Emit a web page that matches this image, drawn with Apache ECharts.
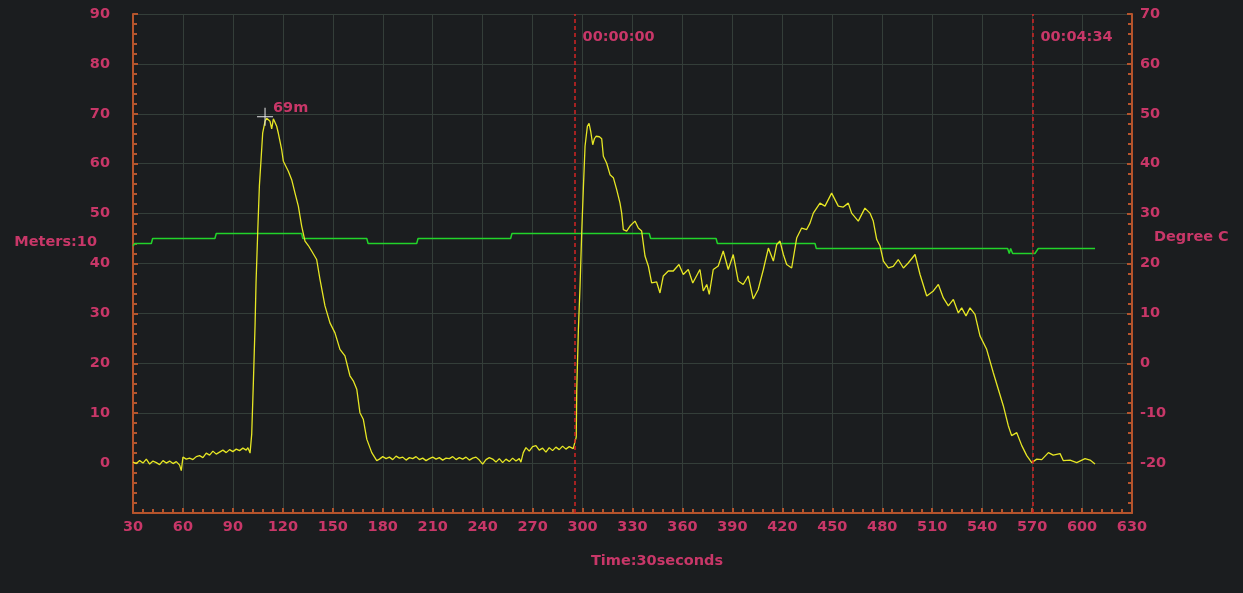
<!DOCTYPE html>
<html lang="en">
  <head>
    <meta charset="utf-8" />
    <title>Dive log</title>
    <style>
      * {
        margin: 0;
        padding: 0;
      }

      html,
      body {
        background: #1b1d1f;
      }

      #chart-container {
        position: relative;
        width: 1243px;
        height: 593px;
        overflow: hidden;
      }
    </style>
  </head>

  <body>
    <div id="chart-container"></div>
    <script src="https://cdn.jsdelivr.net/npm/echarts@6/dist/echarts.min.js"></script>
    <script>
      // depth (m) against time (s)
      var depthTime = [
        30, 32, 34, 36, 38, 40, 42, 44, 46, 48, 50, 52, 54, 56, 58, 59, 60, 62, 64, 66, 68, 70, 72, 74, 76,
        78, 80, 82, 84, 86, 88, 90, 92, 94, 96, 98, 99, 100.3, 101.3, 102.3, 103.3, 103.9, 104.9, 105.9,
        106.9, 107.9, 109.3, 110.3, 111.3, 112.3, 113.3, 114.3, 115.3, 116.3, 117.3, 119.3, 120.3, 121.8,
        123.3, 125.3, 127.3, 129.3, 131.3, 133.3, 135.3, 137.3, 140.3, 142.3, 145.3, 148.3, 151.3, 154.3,
        157.3, 160.3, 162.3, 164.4, 166.3, 168.3, 170.4, 173.4, 176.4,
        178, 180, 182, 184, 186, 188, 190, 192, 194, 196, 198, 200, 202, 204, 206, 208, 210, 212, 214,
        216, 218, 220, 222, 224, 226, 228, 230, 232, 234, 236, 238, 240, 242, 244, 246, 248, 250, 252,
        254, 256, 258, 260, 262, 263, 264.4, 266, 268, 270, 272, 274, 276, 278, 280, 282, 284, 286, 288,
        290, 292, 294.4, 295.5, 296.2, 296.5, 297.5, 298.5, 299.5, 300.5, 301.5, 302.9, 303.9, 304.9,
        306.1, 307.1, 308.1, 310.1, 311.5, 312.5, 314.5, 316.5, 318.5, 320.5, 322.5, 323.5, 324.5,
        326.5, 328.5, 331.5, 333.5, 335.5, 337.5, 339.5, 341.5, 344.5, 346.5, 348.5, 351.5, 354.5,
        357.9, 360.5, 363.5, 366.2, 370.5, 372.5, 374.6, 376.1, 378.5, 381.5, 384.5, 387.5, 390.5,
        393.5, 396.5, 399.5, 402.5, 405.5, 408.6, 411.6, 414.6, 416.6, 418.6, 420.6, 422.6, 425.6,
        428.6, 431.6, 434.6, 436.6, 438.6, 442.6, 445.6, 449.6, 453.6, 456.6, 459.6, 461.6, 465.6,
        469.6, 472.6, 474.6, 476.7, 478.7, 480.7, 483.7, 486.6, 489.6, 492.7, 495.6, 499.7, 502.7,
        506.7, 510.7, 513.7, 516.7, 519.7, 522.7, 525.7, 527.7, 530.3, 532.7, 535.7, 538.7, 542.7,
        546.7, 549.7, 552.7, 555.7, 557.7, 560.8, 563.8, 566.8, 569.8, 572.8, 575.8, 579.8, 582.7,
        586.8, 588.7, 592.8, 596.8, 601.8, 604.8, 607.8
      ];
      var depthValue = [
        0.2, -0.1, 0.5, 0, 0.8, -0.2, 0.4, 0.1, -0.3, 0.5, 0, 0.4, -0.1, 0.3, -0.4, -1.5, 1.2, 0.8, 1.0,
        0.7, 1.3, 1.5, 1.1, 2.0, 1.6, 2.4, 1.8, 2.2, 2.6, 2.1, 2.7, 2.3, 2.8, 2.5, 3.0, 2.6, 3.1, 2.0, 5.8,
        16.2, 27.5, 36.2, 46.2, 55.5, 60.8, 66.2, 68.5, 69.1, 68.7, 68.5, 67.0, 69.0, 68.8, 67.5, 66.1,
        62.8, 60.5, 59.5, 58.5, 56.8, 54.1, 51.5, 47.5, 44.5, 43.6, 42.5, 40.8, 36.8, 31.5, 28.1, 26.1,
        22.8, 21.5, 17.5, 16.5, 14.8, 10.1, 8.8, 4.8, 2.1, 0.5,
        0.8, 1.3, 0.9, 1.2, 0.7, 1.4, 1.0, 1.2, 0.6, 1.1, 0.9, 1.3, 0.7, 1.0, 0.5, 0.9, 1.2, 0.8, 1.1,
        0.6, 1.0, 0.9, 1.3, 0.7, 1.1, 0.8, 1.2, 0.6, 1.0, 1.2, 0.6, -0.2, 0.7, 1.1, 0.8, 0.2, 0.9, 0.1,
        0.8, 0.3, 1.0, 0.4, 0.9, 0.2, 2.1, 3.1, 2.4, 3.3, 3.5, 2.6, 3.0, 2.2, 3.1, 2.5, 3.2, 2.7, 3.4,
        2.8, 3.3, 2.9, 2.5, 5.2, 14.5, 26.8, 35.5, 46.2, 55.2, 63.5, 67.5, 68.1, 66.5, 63.8, 65.0, 65.5,
        65.4, 65.0, 61.5, 60.1, 57.8, 57.2, 54.8, 52.1, 50.1, 46.8, 46.5, 47.5, 48.5, 47.1, 46.5, 41.5,
        39.5, 36.1, 36.3, 34.1, 37.5, 38.5, 38.5, 39.8, 37.8, 38.8, 36.1, 38.8, 34.5, 35.8, 33.8, 38.8,
        39.5, 42.5, 38.8, 41.8, 36.5, 35.8, 37.5, 32.9, 34.8, 38.8, 43.1, 40.5, 43.8, 44.5, 41.8, 39.8,
        39.1, 45.1, 47.1, 46.8, 48.1, 50.1, 52.1, 51.5, 54.1, 51.5, 51.3, 52.1, 50.1, 48.5, 51.1, 50.1,
        48.5, 44.8, 43.5, 40.5, 39.1, 39.4, 40.8, 39.1, 40.1, 41.8, 37.8, 33.5, 34.5, 35.8, 33.1, 31.5,
        32.8, 30.1, 31.1, 29.5, 31.1, 29.8, 25.5, 22.8, 18.1, 14.8, 11.5, 7.5, 5.5, 6.1, 3.5, 1.5, 0.1,
        0.8, 0.7, 2.1, 1.6, 1.9, 0.5, 0.6, 0.1, 0.9, 0.6, -0.2
      ];

      // water temperature (degree C) against time (s)
      var tempTime = [
        30, 31, 41, 41.8, 79.2, 80, 131.3, 132, 170.4, 171.2, 200.4, 201.2, 256.8, 257.6, 340.1, 340.9,
        380.2, 381, 439.6, 440.4, 555.3, 556.3, 557.1, 558.3, 571.7, 573.7, 607.8
      ];
      var tempValue = [
        23.5, 24, 24, 25, 25, 26, 26, 25, 25, 24, 24, 25, 25, 26, 26, 25, 25, 24, 24, 23, 23, 22, 23, 22,
        22, 23, 23
      ];

      var markerTimes = [295.5, 570.5];
      var markerLabels = ["00:00:00", "00:04:34"];
      var peakPoint = [109.3, 69.4];
      var peakLabel = "69m";

      var pink = "#c83768";
      var axisBrown = "#b5542c";
      var gridColor = "#343e39";
      var font = "DejaVu Sans";

      function zip(xs, ys) {
        return xs.map(function (x, i) {
          return [x, ys[i]];
        });
      }

      var dom = document.getElementById("chart-container");
      var myChart = echarts.init(dom, null, { renderer: "canvas" });

      var labelStyle = {
        color: pink,
        fontFamily: font,
        fontWeight: "bold",
        fontSize: 14.5,
      };

      var yAxisBase = {
        type: "value",
        interval: 10,
        axisLine: { show: true, lineStyle: { color: axisBrown, width: 2 } },
        axisTick: { show: true, inside: true, length: 5, lineStyle: { color: axisBrown, width: 2 } },
        minorTick: { show: true, splitNumber: 5, length: 4, lineStyle: { color: axisBrown, width: 2 } },
        nameLocation: "middle",
        nameRotate: 0,
        nameMoveOverlap: false,
      };

      var option = {
        backgroundColor: "#1b1d1f",
        animation: false,
        grid: { left: 133, right: 111, top: 14, bottom: 80 },
        xAxis: {
          type: "value",
          min: 30,
          max: 630,
          interval: 30,
          name: "Time:30seconds",
          nameLocation: "middle",
          nameGap: 41,
          nameMoveOverlap: false,
          nameTextStyle: Object.assign({}, labelStyle, { padding: [0, 0, 0, 49] }),
          axisLine: { show: true, onZero: false, lineStyle: { color: axisBrown, width: 2 } },
          axisTick: { show: true, inside: true, length: 5, lineStyle: { color: axisBrown, width: 2 } },
          minorTick: { show: true, splitNumber: 5, length: 4, lineStyle: { color: axisBrown, width: 2 } },
          axisLabel: Object.assign({}, labelStyle, { margin: 7 }),
          splitLine: { show: true, lineStyle: { color: gridColor, width: 1 } },
        },
        yAxis: [
          Object.assign({}, yAxisBase, {
            min: -10,
            max: 90,
            position: "left",
            // the empty second line lifts the name above the axis middle
            name: "Meters:10\n ",
            nameGap: 36,
            nameTextStyle: Object.assign({}, labelStyle, {
              align: "right",
              verticalAlign: "middle",
              lineHeight: 42,
            }),
            axisLabel: Object.assign({}, labelStyle, { margin: 23, showMinLabel: false }),
            splitLine: { show: true, lineStyle: { color: gridColor, width: 1 } },
          }),
          Object.assign({}, yAxisBase, {
            min: -30,
            max: 70,
            position: "right",
            name: "Degree C\n ",
            nameGap: 22,
            nameTextStyle: Object.assign({}, labelStyle, {
              align: "left",
              verticalAlign: "middle",
              lineHeight: 53,
            }),
            axisLabel: Object.assign({}, labelStyle, { margin: 8, showMinLabel: false }),
            splitLine: { show: false },
          }),
        ],
        series: [
          {
            name: "Temperature",
            type: "line",
            yAxisIndex: 1,
            symbol: "none",
            data: zip(tempTime, tempValue),
            lineStyle: { color: "#22d42a", width: 1.5 },
            z: 2,
          },
          {
            name: "Depth",
            type: "line",
            yAxisIndex: 0,
            symbol: "none",
            data: zip(depthTime, depthValue),
            lineStyle: { color: "#e6e624", width: 1.3 },
            z: 3,
            markLine: {
              silent: true,
              symbol: "none",
              label: { show: false },
              lineStyle: { color: "#d42424", type: [4, 3], width: 1.5 },
              data: markerTimes.map(function (t) {
                return { xAxis: t };
              }),
            },
            markPoint: {
              silent: true,
              data: markerTimes
                .map(function (t, i) {
                  return {
                    coord: [t, 85.4],
                    symbol: "circle",
                    symbolSize: 1,
                    itemStyle: { color: "rgba(0,0,0,0)" },
                    label: Object.assign({}, labelStyle, {
                      show: true,
                      position: "right",
                      distance: 7,
                      formatter: markerLabels[i],
                    }),
                  };
                })
                .concat([
                  {
                    coord: peakPoint,
                    symbol: "path://M0,7.5H16V8.5H0Z M7.5,0H8.5V16H7.5Z",
                    symbolSize: [16, 18],
                    itemStyle: { color: "#e8e8e8" },
                    label: Object.assign({}, labelStyle, {
                      show: true,
                      position: [16, -7],
                      align: "left",
                      verticalAlign: "top",
                      formatter: peakLabel,
                    }),
                  },
                ]),
            },
          },
        ],
      };

      myChart.setOption(option);
      window.addEventListener("resize", myChart.resize);
    </script>
  </body>
</html>
